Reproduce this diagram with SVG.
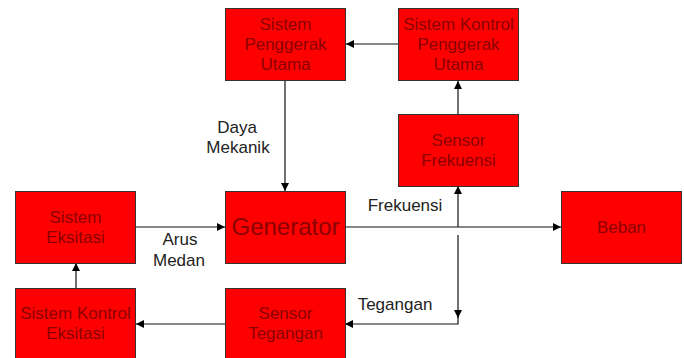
<svg xmlns="http://www.w3.org/2000/svg" width="684" height="358" viewBox="0 0 684 358">
<style>
.box{fill:#ff0000;stroke:#333333;stroke-width:1}
.shadow{fill:#b0b0b0}
.bt{font-family:"Liberation Sans",Arial,sans-serif;font-size:17px;fill:#8b0000;text-anchor:middle}
.lbl{font-family:"Liberation Sans",Arial,sans-serif;font-size:17px;fill:#222222;text-anchor:middle}
.ln{fill:none;stroke:#111111;stroke-width:1.2}
</style>
<defs>
<marker id="ah" viewBox="0 0 10 10" refX="10" refY="5" markerWidth="8" markerHeight="8" markerUnits="userSpaceOnUse" orient="auto">
<path d="M0,0 L10,5 L0,10 Z" fill="#000"/>
</marker>
</defs>
<rect width="684" height="358" fill="#ffffff"/>
<g id="connectors">
<path class="ln" d="M398,44 L346,44" marker-end="url(#ah)"/>
<path class="ln" d="M285,81 L285,191" marker-end="url(#ah)"/>
<path class="ln" d="M458,114 L458,81" marker-end="url(#ah)"/>
<path class="ln" d="M136,227 L225,227" marker-end="url(#ah)"/>
<path class="ln" d="M346,227 L561,227" marker-end="url(#ah)"/>
<path class="ln" d="M458,227 L458,186" marker-end="url(#ah)"/>
<path class="ln" d="M458,235 L458,318" marker-end="url(#ah)"/>
<path class="ln" d="M458,316 L458,324 L345,324" marker-end="url(#ah)"/>
<path class="ln" d="M225,324 L136,324" marker-end="url(#ah)"/>
<path class="ln" d="M76,288 L76,263" marker-end="url(#ah)"/>
<text class="lbl" x="237" y="133">Daya</text>
<text class="lbl" x="238" y="153">Mekanik</text>
<text class="lbl" x="180" y="245">Arus</text>
<text class="lbl" x="179" y="266">Medan</text>
<text class="lbl" x="405" y="211">Frekuensi</text>
<text class="lbl" x="395" y="310">Tegangan</text>
</g>
<g id="penggerak">
<rect class="box" x="225.5" y="8.5" width="120" height="72"/>
<text class="bt" x="285.5" y="30">Sistem</text>
<text class="bt" x="285.5" y="50">Penggerak</text>
<text class="bt" x="285.5" y="70">Utama</text>
</g>
<g id="kontrol-penggerak">
<rect class="box" x="398.5" y="8.5" width="120" height="72"/>
<text class="bt" x="458.5" y="30">Sistem Kontrol</text>
<text class="bt" x="458.5" y="50">Penggerak</text>
<text class="bt" x="458.5" y="70">Utama</text>
</g>
<g id="sensor-frekuensi">
<rect class="box" x="398.5" y="114.5" width="120" height="72"/>
<text class="bt" x="458.5" y="146">Sensor</text>
<text class="bt" x="458.5" y="166">Frekuensi</text>
</g>
<g id="eksitasi">
<rect class="box" x="15.5" y="191.5" width="120" height="72"/>
<text class="bt" x="75.5" y="223">Sistem</text>
<text class="bt" x="75.5" y="243">Eksitasi</text>
</g>
<g id="generator">
<rect class="box" x="225.5" y="191.5" width="120" height="72"/>
<text class="bt" x="285.5" y="235" style="font-size:24px">Generator</text>
</g>
<g id="beban">
<rect class="box" x="561.5" y="191.5" width="120" height="72"/>
<text class="bt" x="621.5" y="233">Beban</text>
</g>
<g id="kontrol-eksitasi">
<rect class="box" x="15.5" y="288.5" width="120" height="72"/>
<text class="bt" x="75.5" y="319">Sistem Kontrol</text>
<text class="bt" x="75.5" y="339">Eksitasi</text>
</g>
<g id="sensor-tegangan">
<rect class="box" x="225.5" y="288.5" width="120" height="72"/>
<text class="bt" x="285.5" y="319">Sensor</text>
<text class="bt" x="285.5" y="339">Tegangan</text>
</g>
</svg>
